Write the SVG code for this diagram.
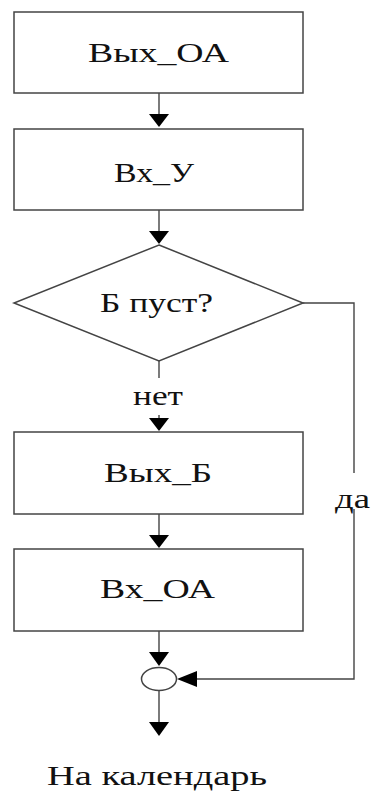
<svg xmlns="http://www.w3.org/2000/svg" width="375" height="791" viewBox="0 0 375 791">
<style>
.box{fill:#fff;stroke:#444;stroke-width:1.5}
.ln{fill:none;stroke:#444;stroke-width:1.4}
.ah{fill:#000}
text{font-family:'Liberation Serif','DejaVu Serif',serif;font-size:27px;fill:#111}
</style>
<rect width="375" height="791" fill="#fff"/>
<g id="connectors">
<line class="ln" x1="159" y1="93" x2="159" y2="116"/>
<polygon class="ah" points="149,114 169,114 159,127"/>
<line class="ln" x1="159" y1="210" x2="159" y2="233"/>
<polygon class="ah" points="149,231 169,231 159,244"/>
<line class="ln" x1="159" y1="361" x2="159" y2="378"/>
<line class="ln" x1="159" y1="415" x2="159" y2="421"/>
<polygon class="ah" points="149,418 169,418 159,431"/>
<line class="ln" x1="159" y1="514" x2="159" y2="537"/>
<polygon class="ah" points="149,535 169,535 159,548"/>
<line class="ln" x1="159" y1="631" x2="159" y2="654"/>
<polygon class="ah" points="149,652 169,652 159,666"/>
<line class="ln" x1="159" y1="691" x2="159" y2="724"/>
<polygon class="ah" points="149,722 169,722 159,736"/>
<polyline class="ln" points="303,303 354,303 354,473"/>
<polyline class="ln" points="354,509 354,679 195,679"/>
<polygon class="ah" points="197,671 197,687 177,679"/>
<text x="133" y="405" textLength="50" lengthAdjust="spacingAndGlyphs">нет</text>
<text x="335" y="508" textLength="35" lengthAdjust="spacingAndGlyphs">да</text>
</g>
<g id="n1"><rect class="box" x="14" y="12" width="289" height="81"/><text x="88" y="62" textLength="141" lengthAdjust="spacingAndGlyphs">Вых_ОА</text></g>
<g id="n2"><rect class="box" x="14" y="129" width="289" height="81"/><text x="114" y="182" textLength="80" lengthAdjust="spacingAndGlyphs">Вх_У</text></g>
<g id="n3"><polygon class="box" points="159,245 303,303 159,361 14,303"/><text x="100" y="312" textLength="113" lengthAdjust="spacingAndGlyphs">Б пуст?</text></g>
<g id="n4"><rect class="box" x="14" y="432" width="289" height="82"/><text x="104" y="482" textLength="108" lengthAdjust="spacingAndGlyphs">Вых_Б</text></g>
<g id="n5"><rect class="box" x="14" y="549" width="289" height="82"/><text x="100" y="598" textLength="115" lengthAdjust="spacingAndGlyphs">Вх_ОА</text></g>
<g id="n6"><ellipse class="box" cx="159" cy="679" rx="17.5" ry="11.5" stroke-width="1.2"/></g>
<g id="n7"><text x="47" y="785" textLength="220" lengthAdjust="spacingAndGlyphs">На календарь</text></g>
</svg>
